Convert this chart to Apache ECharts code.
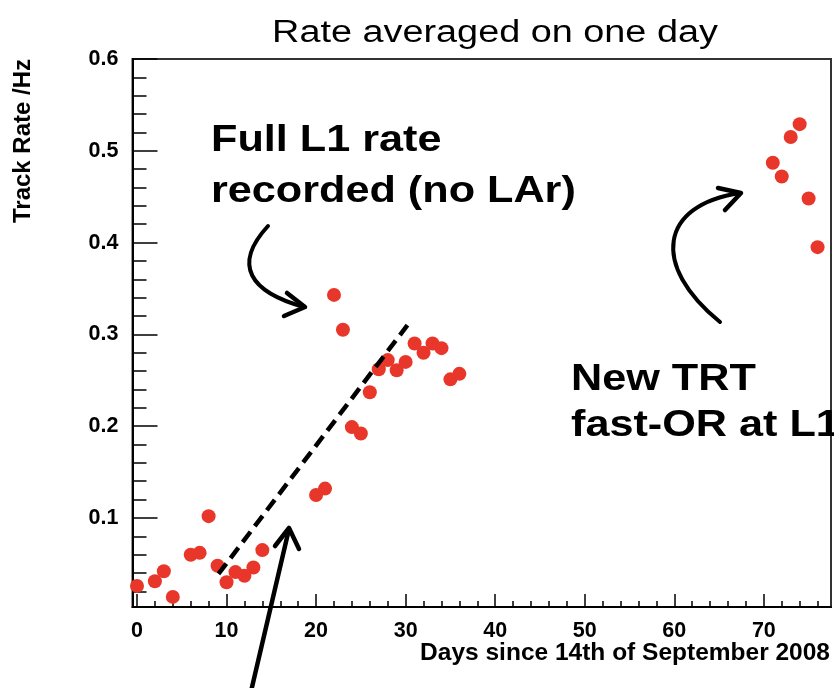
<!DOCTYPE html>
<html>
<head>
<meta charset="utf-8">
<script src="https://cdn.jsdelivr.net/npm/echarts@6/dist/echarts.min.js"></script>
<style>
html,body{margin:0;padding:0;background:#fff;}
#chart{width:834px;height:688px;}
</style>
</head>
<body>
<div id="chart"></div>
<script>
// ---- data ----
const days = [0, 2, 3, 4, 6, 7, 8, 9, 10, 11, 12, 13, 14,
  20, 21, 22, 23, 24, 25, 26, 27, 28, 29, 30, 31, 32, 33, 34, 35, 36,
  71, 72, 73, 74, 75, 76];
const rates = [0.026, 0.031, 0.042, 0.014, 0.060, 0.062, 0.102, 0.048, 0.030, 0.041, 0.037, 0.046, 0.065,
  0.125, 0.132, 0.343, 0.305, 0.199, 0.192, 0.237, 0.262, 0.272, 0.261, 0.270, 0.290, 0.280, 0.290, 0.285, 0.251, 0.257,
  0.487, 0.472, 0.515, 0.529, 0.448, 0.395];
const xMajorTicks = [0, 10, 20, 30, 40, 50, 60, 70];
const xMinorTicks = [2, 4, 6, 8, 12, 14, 16, 18, 22, 24, 26, 28, 32, 34, 36, 38, 42, 44, 46, 48,
  52, 54, 56, 58, 62, 64, 66, 68, 72, 74, 76];
const yMajorTicks = [0.1, 0.2, 0.3, 0.4, 0.5, 0.6];
const yMinorTicks = [0.02, 0.04, 0.06, 0.08, 0.12, 0.14, 0.16, 0.18, 0.22, 0.24, 0.26, 0.28,
  0.32, 0.34, 0.36, 0.38, 0.42, 0.44, 0.46, 0.48, 0.52, 0.54, 0.56, 0.58];
const trendLine = [[9.1, 0.039], [30.2, 0.31]];
const titleText = 'Rate averaged on one day';
const xName = 'Days since 14th of September 2008';
const yName = 'Track Rate /Hz';
const note1 = 'Full L1 rate\nrecorded (no LAr)';
const note2 = 'New TRT\nfast-OR at L1';

const X_MIN = -0.5, X_MAX = 77.5, Y_MIN = 0.003, Y_MAX = 0.6;

const chart = echarts.init(document.getElementById('chart'), null, {renderer: 'canvas'});
const tickFont = {color: '#000', fontFamily: 'Liberation Sans', fontWeight: 'bold', fontSize: 21.5};

const option = {
  animation: false,
  backgroundColor: '#fff',
  grid: {left: 132.5, right: 3, top: 59, bottom: 81, show: true, borderColor: '#333', borderWidth: 2, backgroundColor: 'transparent'},
  xAxis: [
    {
      type: 'value', min: X_MIN, max: X_MAX, position: 'bottom',
      axisLine: {show: true, onZero: false, lineStyle: {color: '#000', width: 2}},
      axisTick: {show: true, inside: true, length: 13, customValues: xMajorTicks, lineStyle: {color: '#000', width: 1.5}},
      axisLabel: {show: true, customValues: xMajorTicks, margin: 13, ...tickFont},
      splitLine: {show: false}
    },
    {
      type: 'value', min: X_MIN, max: X_MAX, position: 'bottom',
      axisLine: {show: false, onZero: false},
      axisTick: {show: true, inside: true, length: 6, customValues: xMinorTicks, lineStyle: {color: '#000', width: 1.5}},
      axisLabel: {show: false},
      splitLine: {show: false}
    }
  ],
  yAxis: [
    {
      type: 'value', min: Y_MIN, max: Y_MAX, position: 'left',
      axisLine: {show: true, onZero: false, lineStyle: {color: '#000', width: 2}},
      axisTick: {show: true, inside: true, length: 25, customValues: yMajorTicks, lineStyle: {color: '#000', width: 1.5}},
      axisLabel: {show: true, customValues: yMajorTicks, margin: 14, padding: [3, 0, 0, 0], ...tickFont,
        formatter: v => v.toFixed(1)},
      splitLine: {show: false}
    },
    {
      type: 'value', min: Y_MIN, max: Y_MAX, position: 'left',
      axisLine: {show: false, onZero: false},
      axisTick: {show: true, inside: true, length: 14, customValues: yMinorTicks, lineStyle: {color: '#000', width: 1.5}},
      axisLabel: {show: false},
      splitLine: {show: false}
    }
  ],
  series: [{
    type: 'scatter',
    xAxisIndex: 0, yAxisIndex: 0,
    symbol: 'circle', symbolSize: 14,
    itemStyle: {color: '#e8372a', opacity: 1},
    data: days.map((d, i) => [d, rates[i]]),
    markLine: {
      silent: true, symbol: ['none', 'none'],
      label: {show: false},
      lineStyle: {color: '#000', width: 4.5, type: [13, 7]},
      data: [[{coord: trendLine[0]}, {coord: trendLine[1]}]]
    }
  }],
  graphic: [
    {type: 'text', x: 495, y: 18, scaleX: 1.22, style: {text: titleText, font: 'normal 31px "Liberation Sans"', fill: '#000', align: 'center', verticalAlign: 'top'}},
    {type: 'text', x: 830, y: 641, style: {text: xName, font: 'bold 24.5px "Liberation Sans"', fill: '#000', align: 'right', verticalAlign: 'top'}},
    {type: 'text', x: 11, y: 141, rotation: Math.PI / 2, style: {text: yName, font: 'bold 24px "Liberation Sans"', fill: '#000', align: 'center', verticalAlign: 'top'}},
    {type: 'text', x: 211, y: 116, scaleX: 1.2, style: {text: note1, font: 'bold 36px "Liberation Sans"', lineHeight: 51, fill: '#000', align: 'left', verticalAlign: 'top'}},
    {type: 'text', x: 571, y: 357, scaleX: 1.2, style: {text: note2, font: 'bold 36px "Liberation Sans"', lineHeight: 46, fill: '#000', align: 'left', verticalAlign: 'top'}},
    // arrow 1
    {type: 'bezierCurve', shape: {x1: 268, y1: 226, cpx1: 232, cpy1: 265, cpx2: 250, cpy2: 292, x2: 304, y2: 307},
      style: {stroke: '#000', lineWidth: 4, fill: null, lineCap: 'round'}},
    {type: 'polyline', shape: {points: [[287, 293], [305, 307], [284, 316]]},
      style: {stroke: '#000', lineWidth: 4.5, fill: null, lineCap: 'round', lineJoin: 'round'}},
    // arrow 2
    {type: 'bezierCurve', shape: {x1: 720, y1: 322, cpx1: 650, cpy1: 265, cpx2: 660, cpy2: 205, x2: 740, y2: 193},
      style: {stroke: '#000', lineWidth: 4, fill: null, lineCap: 'round'}},
    {type: 'polyline', shape: {points: [[718, 188], [741, 193], [725, 210]]},
      style: {stroke: '#000', lineWidth: 4.5, fill: null, lineCap: 'round', lineJoin: 'round'}},
    // arrow 3
    {type: 'line', shape: {x1: 249, y1: 700, x2: 289, y2: 529},
      style: {stroke: '#000', lineWidth: 4.5, lineCap: 'round'}},
    {type: 'polyline', shape: {points: [[275, 546], [289, 528], [299, 549]]},
      style: {stroke: '#000', lineWidth: 4.5, fill: null, lineCap: 'round', lineJoin: 'round'}}
  ]
};
chart.setOption(option);
</script>
</body>
</html>
